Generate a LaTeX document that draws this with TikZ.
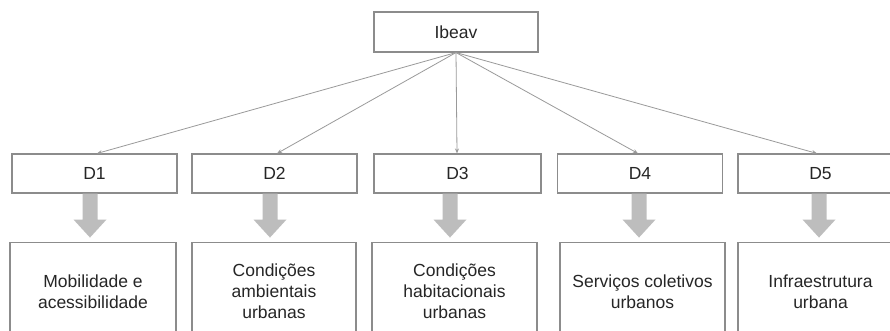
\documentclass[tikz,border=0pt]{standalone}
\usepackage{fontspec}
\setmainfont{Liberation Sans}
\usetikzlibrary{arrows.meta}
\definecolor{boxline}{HTML}{8C8C8C}
\definecolor{thinarrow}{HTML}{9A9A9A}
\definecolor{bigfill}{HTML}{BDBDBD}
\definecolor{txt}{HTML}{262626}
\tikzset{
  box/.style={draw=boxline, line width=1.1pt, fill=white, text=txt, inner sep=0pt,
    font=\fontsize{17.5}{21}\selectfont},
  topbox/.style={box, minimum width=165pt, minimum height=39pt},
  dimbox/.style={box, minimum width=165pt, minimum height=39pt},
  catbox/.style={box, minimum width=165pt, minimum height=98pt, anchor=north, align=center},
  thin/.style={draw=thinarrow, line width=0.8pt, -{Stealth[length=5pt,width=4pt]}},
  bigarrow/.style={fill=bigfill}
}
\begin{document}
\begin{tikzpicture}[x=1pt,y=-1pt]
\clip (0,0) rectangle (890,330);
\fill[white] (0,0) rectangle (890,330);

\node[topbox, minimum width=164pt, minimum height=40pt] (ibeav) at (456,32) {Ibeav};

\node[dimbox] (d1) at (94.5,173.5) {D1};
\node[dimbox] (d2) at (274.5,173.5) {D2};
\node[dimbox, minimum width=167pt] (d3) at (457.5,173.5) {D3};
\node[dimbox] (d4) at (640,173.5) {D4};
\node[dimbox] (d5) at (820.5,173.5) {D5};

\node[catbox, minimum width=166pt] (b1) at (93,242) {Mobilidade e\\acessibilidade};
\node[catbox, minimum width=164pt] (b2) at (274,242) {Condições\\ambientais\\urbanas};
\node[catbox] (b3) at (454.5,242) {Condições\\habitacionais\\urbanas};
\node[catbox] (b4) at (642.5,242) {Serviços coletivos\\urbanos};
\node[catbox] (b5) at (820.5,242) {Infraestrutura\\urbana};

\coordinate (t1) at (97,0);
\coordinate (t2) at (277,0);
\coordinate (t3) at (457,0);
\coordinate (t4) at (638,0);
\coordinate (t5) at (817,0);
\foreach \i in {1,...,5}{
  \draw[thin] (ibeav.south) -- (t\i |- d\i.north);
}

\coordinate (a1) at (90,0);
\coordinate (a2) at (270,0);
\coordinate (a3) at (450,0);
\coordinate (a4) at (639,0);
\coordinate (a5) at (819,0);
\foreach \i in {1,...,5}{
  \fill[bigarrow] ([xshift=-7.5pt]a\i |- d\i.south) -- ++(15,0) -- ++(0,26) -- ++(9,0)
    -- ++(-16.5,18) -- ++(-16.5,-18) -- ++(9,0) -- cycle;
}
\end{tikzpicture}
\end{document}
